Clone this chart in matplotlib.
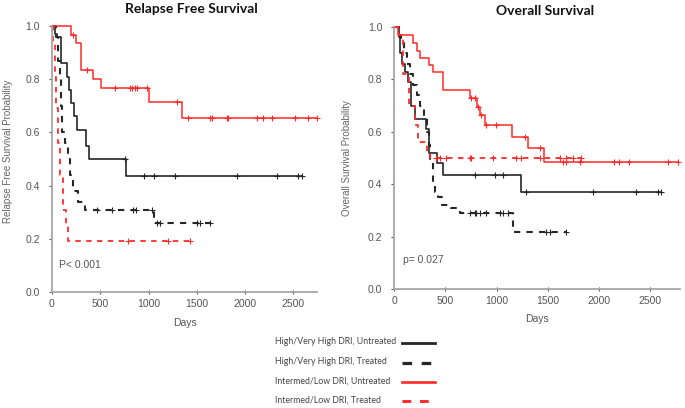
import numpy as np
import matplotlib
matplotlib.use("Agg")
import matplotlib.pyplot as plt
from matplotlib.lines import Line2D

plt.rcParams['font.family'] = ['Liberation Sans', 'DejaVu Sans']

# ---- Relapse free survival (days, survival prob) ----
rfs_hi_untr_t = [0, 31, 48, 93, 152, 176, 197, 228, 256, 352, 387, 767]
rfs_hi_untr_s = [1.0, 0.97, 0.96, 0.86, 0.81, 0.76, 0.71, 0.66, 0.61, 0.55, 0.50, 0.435]
rfs_hi_untr_c = [756, 953, 1060, 1275, 1914, 2328, 2553, 2587]

rfs_hi_tr_t = [0, 40, 60, 80, 90, 100, 130, 165, 186, 218, 270, 345, 1057]
rfs_hi_tr_s = [1.0, 0.96, 0.87, 0.80, 0.70, 0.60, 0.56, 0.50, 0.44, 0.38, 0.34, 0.31, 0.26]
rfs_hi_tr_c = [463, 618, 843, 870, 1033, 1085, 1119, 1499, 1534, 1637]

rfs_lo_untr_t = [0, 200, 249, 297, 425, 508, 1005, 1344]
rfs_lo_untr_s = [1.0, 0.966, 0.936, 0.835, 0.80, 0.767, 0.713, 0.653]
rfs_lo_untr_c = [220, 363, 653, 808, 826, 860, 877, 981, 1292, 1413, 1637, 1655,
                 1810, 1827, 2121, 2190, 2276, 2518, 2656, 2743]

rfs_lo_tr_t = [0, 15, 30, 45, 60, 80, 110, 140, 170]
rfs_lo_tr_s = [1.0, 0.94, 0.81, 0.69, 0.56, 0.44, 0.31, 0.25, 0.19]
rfs_lo_tr_c = [791, 1205, 1430]

# ---- Overall survival ----
os_hi_untr_t = [0, 45, 60, 80, 107, 136, 165, 205, 310, 345, 419, 478, 1241]
os_hi_untr_s = [1.0, 0.96, 0.90, 0.86, 0.83, 0.79, 0.70, 0.65, 0.61, 0.52, 0.48, 0.435, 0.372]
os_hi_untr_c = [786, 981, 1062, 1290, 1940, 2362, 2573, 2606]

os_hi_tr_t = [0, 50, 70, 100, 130, 160, 190, 220, 250, 290, 320, 340, 350, 380, 400, 425, 465, 560, 640, 1160]
os_hi_tr_s = [1.0, 0.97, 0.94, 0.90, 0.86, 0.82, 0.78, 0.74, 0.70, 0.65, 0.60, 0.55, 0.48, 0.40, 0.37, 0.35,
              0.32, 0.31, 0.29, 0.217]
os_hi_tr_c = [740, 790, 802, 835, 900, 1030, 1062, 1111, 1485, 1517, 1680]

os_lo_untr_t = [0, 40, 185, 224, 253, 341, 380, 478, 741, 809, 840, 884, 1153, 1306, 1459]
os_lo_untr_s = [1.0, 0.97, 0.94, 0.91, 0.88, 0.855, 0.83, 0.76, 0.73, 0.695, 0.665, 0.626, 0.581, 0.539, 0.486]
os_lo_untr_c = [754, 786, 819, 851, 900, 997, 1274, 1420, 1647, 1680, 1810, 2151, 2199, 2297, 2671, 2768]

os_lo_tr_t = [0, 45, 88, 150, 200, 230, 320, 350]
os_lo_tr_s = [1.0, 0.97, 0.82, 0.70, 0.625, 0.56, 0.52, 0.50]
os_lo_tr_c = [413, 445, 510, 737, 754, 965, 1192, 1241, 1420, 1615, 1680, 1745, 1826]

labels = ["High/Very High DRI, Untreated", "High/Very High DRI, Treated",
          "Intermed/Low DRI, Untreated", "Intermed/Low DRI, Treated"]

RED = "#ff2a2a"
BLK = "#262626"
styles = [dict(color=BLK, ls="-", lw=1.2),
          dict(color=BLK, ls=(0, (3, 3)), lw=1.5),
          dict(color=RED, ls="-", lw=1.1),
          dict(color=RED, ls=(0, (3, 3)), lw=1.3)]


def km(ax, t, s, c, st):
    t = np.asarray(t, float)
    s = np.asarray(s, float)
    end = max(max(c), t[-1])
    tt = np.append(t, end)
    ss = np.append(s, s[-1])
    ax.step(tt, ss, where="post", clip_on=False, **st)
    cy = s[np.searchsorted(t, c, side="right") - 1]
    ax.plot(c, cy, ls="none", marker="+", ms=5, mew=0.8, color=st["color"], clip_on=False)


fig = plt.figure(figsize=(6.85, 4.08), dpi=100)
ax1 = fig.add_axes([0.0759, 0.2843, 0.3869, 0.652])
ax2 = fig.add_axes([0.5752, 0.2917, 0.4175, 0.6422])

rfs = [(rfs_hi_untr_t, rfs_hi_untr_s, rfs_hi_untr_c), (rfs_hi_tr_t, rfs_hi_tr_s, rfs_hi_tr_c),
       (rfs_lo_untr_t, rfs_lo_untr_s, rfs_lo_untr_c), (rfs_lo_tr_t, rfs_lo_tr_s, rfs_lo_tr_c)]
oss = [(os_hi_untr_t, os_hi_untr_s, os_hi_untr_c), (os_hi_tr_t, os_hi_tr_s, os_hi_tr_c),
       (os_lo_untr_t, os_lo_untr_s, os_lo_untr_c), (os_lo_tr_t, os_lo_tr_s, os_lo_tr_c)]

for (t, s, c), st in zip(rfs, styles):
    km(ax1, t, s, c, st)
for (t, s, c), st in zip(oss, styles):
    km(ax2, t, s, c, st)

for ax, xmax, title, tx, ylab, ptxt, px, py in [
        (ax1, 2745, "Relapse Free Survival", 0.525, "Relapse Free Survival Probability", "P< 0.001", 0.026, 0.09),
        (ax2, 2790, "Overall Survival", 0.528, "Overall Survival Probability", "p= 0.027", 0.031, 0.10)]:
    ax.set_xlim(0, xmax)
    ax.set_ylim(0, 1.0)
    ax.set_xticks([0, 500, 1000, 1500, 2000, 2500])
    ax.set_yticks([0.0, 0.2, 0.4, 0.6, 0.8, 1.0])
    ax.set_yticklabels(["0.0", "0.2", "0.4", "0.6", "0.8", "1.0"])
    for sp in ["top", "right"]:
        ax.spines[sp].set_visible(False)
    for sp in ["left", "bottom"]:
        ax.spines[sp].set_color("#a6a6a6")
        ax.spines[sp].set_linewidth(1.3)
    ax.tick_params(axis="both", labelsize=7.5, colors="#555555", length=2.5, width=0.8)
    ax.tick_params(axis="x", direction="inout", pad=4)
    ax.tick_params(axis="y", pad=6)
    ax.set_xlabel("Days", fontsize=7.5, color="#555555")
    ax.set_ylabel(ylab, fontsize=7, color="#666666")
    ax.text(tx, 1.062, title, transform=ax.transAxes, ha="center", va="center",
            fontsize=10, fontweight="bold", family="Lato", color="#111111")
    ax.text(px, py, ptxt, transform=ax.transAxes, fontsize=7.5, color="#555555")

ax1.yaxis.set_label_coords(-0.147, 0.53)
ax2.yaxis.set_label_coords(-0.147, 0.50)
ax1.xaxis.set_label_coords(0.5, -0.098)
ax2.xaxis.set_label_coords(0.5, -0.095)

# legend drawn at the bottom, text left and line sample right
rows_y = [1 - 342 / 408, 1 - 362 / 408, 1 - 381 / 408, 1 - 400 / 408]
for lab, st, y in zip(labels, styles, rows_y):
    fig.text(275 / 685, y, lab, fontsize=6.3, family="Lato", color="#444444", va="center")
    fig.add_artist(Line2D([402 / 685, 435 / 685], [y - 0.003, y - 0.003], color=st["color"],
                          ls=st["ls"], lw=st["lw"] + 0.8, transform=fig.transFigure))

fig.savefig("out.png", dpi=100)
